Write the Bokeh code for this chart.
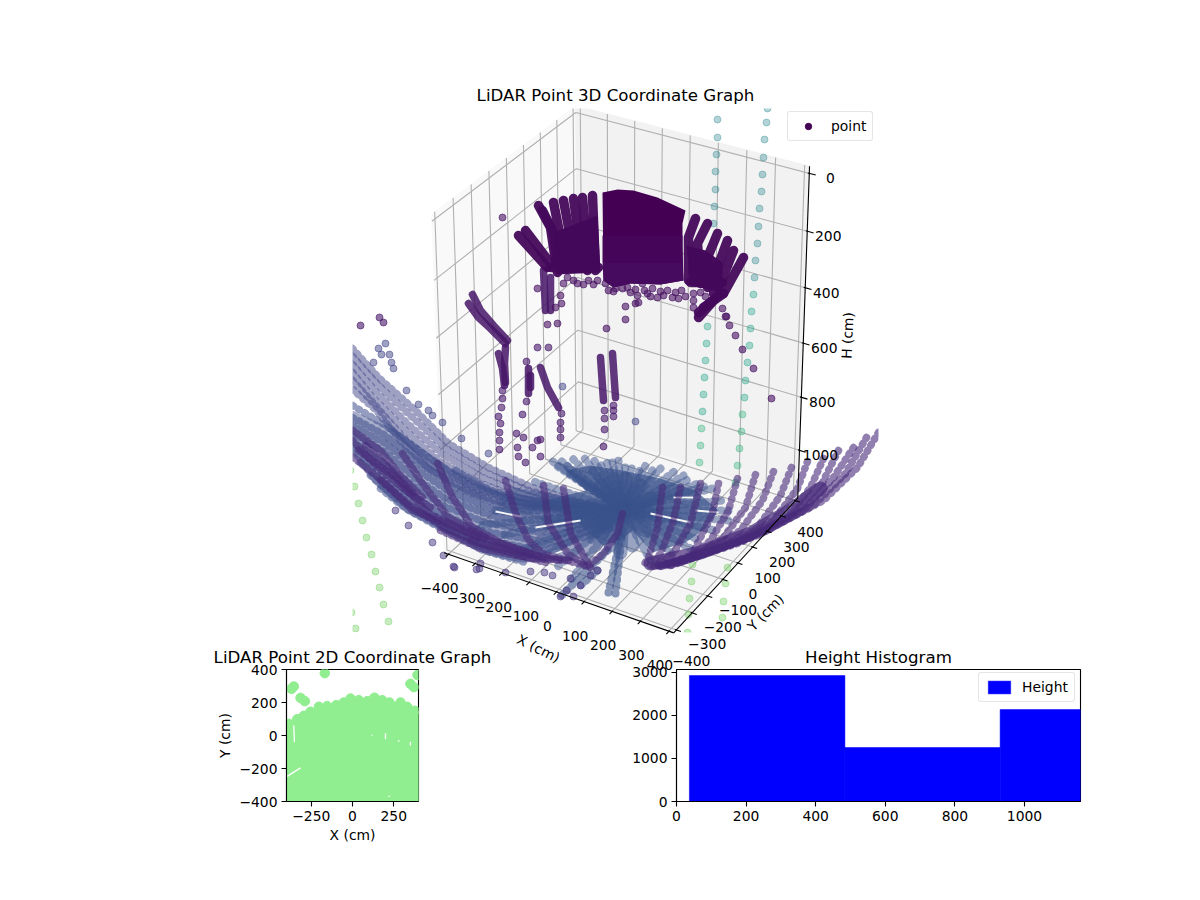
from bokeh.plotting import figure
from bokeh.layouts import column, row
from bokeh.models import Range1d, Label, Legend, LegendItem, FixedTicker, ColumnDataSource
from bokeh.transform import linear_cmap
from bokeh.palettes import Viridis256
from bokeh.embed import file_html
from bokeh.resources import INLINE

FONT = "DejaVu Sans"
TXT = "13.89px"
TTL = "16.67px"

# ---------------- 3D axis values ----------------
x_ticks = [-400, -300, -200, -100, 0, 100, 200, 300, 400]
y_ticks = [-400, -300, -200, -100, 0, 100, 200, 300, 400]
h_ticks = [0, 200, 400, 600, 800, 1000]
pane_xy = 416.67
pane_h_top = -24
pane_h_bottom = 1184

# ---------------- scan (position in the picture plane, height estimate) ----------------
teal_upper = [(717,119),(717,137),(716,154),(715,171),(715,189),(714,206),(713,223),(767,108),(766,122),(764,139),(763,157),(762,174),(761,191),(759,208),(758,226),(757,243),(755,260),(754,277)]
teal_mid = [(753,294),(751,311),(750,328),(749,345),(747,362),(745,380),(744,397),(707,326),(706,343),(705,360),(704,377),(703,394),(702,411)]
teal_low = [(742,414),(741,431),(739,448),(737,465),(735,482),(701,428),(700,445),(699,462)]
green_low = [(692,564),(691,581),(689,598),(688,614),(687,632),(725,583),(727,567),(723,601),(722,617),(719,634),(354,486),(358,503),(362,520),(366,537),(371,554),(375,571),(379,587),(383,604),(388,621),(392,637),(351,612),(355,628),(350,470)]

dome_outliers = [(502,217),(537,288),(560,295),(561,303),(555,307),(547,324),(557,323),(606,328),(625,306),(625,319),(635,303),(638,302),(693,300),(693,307),(722,308),(726,316),(615,288),(630,292),(637,295),(647,293),(657,297),(672,297),(678,298),(693,293),(642,283),(667,290),(605,283),(563,283),(573,280),(577,283),(588,280),(597,280),(622,288),(652,288),(663,295),(685,296),(608,290),(725,316),(729,325),(735,335),(742,349),(753,368),(771,398),(613,291),(627,287),(635,289),(644,290),(650,296),(660,291),(675,292),(681,290),(700,292),(705,296),(567,277),(583,284),(593,284)]
wall_points = [(379,317),(383,322),(360,325),(537,347),(548,347),(516,433),(523,437),(517,447),(518,456),(525,462),(532,447),(540,456),(537,440),(540,439),(603,446),(604,410),(604,418),(604,429),(613,405),(613,410),(613,416),(502,390),(502,398),(501,407),(498,416),(500,423),(499,432),(499,440),(499,449),(526,401),(522,414),(526,361),(561,413),(560,422),(560,429),(560,437)]
blue_points = [(635,421),(562,386),(385,343),(378,348),(381,354),(389,354),(373,362),(391,362),(393,368),(406,390),(418,404),(428,410),(432,415),(442,422),(461,438),(488,453)]
low_points = [(454,567),(476,569),(443,555),(480,563),(505,572),(530,571),(560,596),(566,590),(573,596),(580,585),(570,578),(590,575),(597,570),(552,575),(544,572),(453,566),(479,568),(432,542),(408,525),(395,510)]

dome_block = [(602,192),(617,189),(633,190),(657,197),(685,210),(682,223),(682,247),(683,280),(660,284),(630,283),(613,287),(603,280)]
dome_block_mid = [(602,235),(682,235),(682,262),(602,262)]
dome_block_low = [(602,262),(682,262),(683,280),(660,284),(630,283),(613,287),(603,280)]
dome_fill_left = [(553,232),(597,215),(600,272),(556,274)]
dome_fill_right = [(686,245),(705,250),(722,262),(722,292),(690,285)]
dome_strokes = [
 [(538,205),(550,227),(553,247),(557,272)],
 [(542,210),(553,232),(557,262)],
 [(553,202),(558,227),(563,267)],
 [(563,200),(568,227),(573,267)],
 [(573,198),(577,227),(580,267)],
 [(582,197),(585,230),(587,270)],
 [(592,195),(595,270)],
 [(550,267),(598,267)],
 [(518,235),(547,267)],
 [(525,230),(550,263)],
 [(695,218),(688,237),(688,280)],
 [(707,223),(697,243),(700,283)],
 [(717,233),(707,257),(707,287)],
 [(727,240),(717,267),(713,293)],
 [(733,250),(720,283)],
 [(743,257),(723,293)],
 [(698,317),(713,300)],
 [(703,307),(723,293)],
 [(698,312),(718,295)],
 [(690,282),(722,282)],
 [(692,270),(715,272)],
]
wall_strokes = [
 [(543,270),(545,310)],
 [(550,277),(550,310)],
 [(472,294),(480,310),(493,325),(507,340)],
 [(468,303),(478,317),(490,328),(505,343)],
 [(505,347),(504,363),(505,382)],
 [(498,353),(502,368),(504,385)],
 [(528,368),(528,393)],
 [(530,375),(530,387)],
 [(540,367),(547,387),(558,407)],
 [(600,357),(603,400)],
 [(612,353),(615,397)],
]
floor_bands = [
 [(352,348),(378,377),(415,410),(448,443),(488,467),(532,487),(600,508)],
 [(352,356),(378,385),(412,417),(445,448),(485,472),(528,490),(600,509)],
 [(352,364),(376,392),(408,424),(442,454),(482,477),(524,494),(600,510)],
 [(352,372),(372,397),(405,430),(438,460),(478,482),(518,497),(600,511)],
 [(352,380),(374,404),(402,436),(432,465),(474,488),(514,501),(600,512)],
 [(352,389),(376,410),(400,440),(428,468),(470,492),(510,505),(600,512)],
]
floor_dense = [
 [(352,417),(385,435),(420,463),(455,487),(500,505),(560,512),(610,512)],
 [(352,425),(385,443),(418,470),(450,492),(495,510),(550,518),(610,514)],
 [(352,433),(385,452),(415,478),(445,498),(490,515),(545,525),(610,516)],
 [(352,441),(380,460),(412,485),(442,505),(485,522),(540,532),(610,518)],
 [(352,449),(378,468),(408,492),(438,512),(480,530),(535,540),(610,520)],
 [(360,462),(385,482),(412,502),(440,520),(478,538),(530,548),(610,524)],
 [(370,475),(395,497),(420,513),(450,530),(480,545),(525,556),(610,528)],
 [(380,488),(405,508),(430,522),(460,538),(490,552),(525,562)],
 [(352,405),(385,425),(425,455),(470,485),(530,505),(610,510)],
 [(455,470),(490,490),(540,503),(610,510)],
]
floor_mass = [(352,410),(400,432),(450,468),(500,492),(560,500),(622,508),(600,550),(575,560),(520,562),(480,553),(440,530),(405,512),(373,483),(352,455)]
dark_left = [
 [(543,485),(548,523),(567,553),(587,566),(603,553),(617,533),(622,513)],
 [(563,488),(570,533),(590,567)],
 [(505,480),(515,513),(528,540),(542,553),(588,566)],
 [(437,463),(452,497),(472,527),(502,543),(542,557)],
 [(402,453),(422,483),(448,517),(485,537)],
 [(358,450),(395,477),(428,513),(472,533),(512,547),(532,553)],
 [(353,457),(385,483),(412,510),(445,523),(478,537)],
 [(352,430),(380,450),(400,475),(425,500)],
 [(440,530),(480,548),(530,558),(570,560)],
 [(380,480),(410,505),(445,528),(480,542),(520,552),(560,560)],
 [(352,440),(375,465),(405,490),(432,508)],
 [(365,445),(390,470),(415,495)],
 [(470,540),(510,552),(545,562)],
]
dark_right = [
 [(662,487),(657,527),(648,557),(643,565)],
 [(680,487),(673,520),(660,553),(650,565)],
 [(700,483),(690,523),(673,553),(653,566)],
 [(718,483),(712,513),(697,543),(690,557),(655,566)],
 [(737,478),(728,510),(710,540),(690,557),(655,566)],
 [(755,474),(745,507),(723,537),(700,552),(660,566)],
 [(773,471),(762,500),(740,530),(710,548),(660,566)],
 [(791,467),(780,495),(757,527),(720,547),(665,565)],
 [(807,461),(797,488),(773,520),(733,543),(665,565)],
 [(823,458),(810,487),(787,517),(740,542),(670,565)],
 [(838,450),(822,482),(793,513),(747,538),(670,565)],
 [(853,447),(833,477),(803,510),(757,535),(675,563)],
 [(866,437),(845,473),(813,505),(763,532),(680,562)],
 [(878,432),(857,467),(823,500),(770,528),(690,558)],
]
right_base = [[(650,563),(700,552),(750,533),(790,510),(820,488)]]
hub_x = 622
hub_y = 510
hub_fan = [(565,470),(590,465),(622,470),(660,478),(695,490),(718,510),(705,528),(685,542),(652,552),(632,530),(620,540),(602,545),(575,520),(545,500),(585,490)]
hub_ends = [(548,458),(560,460),(572,458),(582,455),(592,457),(605,458),(618,460),(632,464),(645,465),(660,468),(675,470),(690,478),(700,482),(712,488),(722,500),(728,510),(728,520),(715,530),(700,540),(690,548),(530,480),(510,490),(500,500),(490,510),(480,525),(500,535),(520,550),(540,558),(555,568),(570,580),(650,560),(670,552),(640,468),(565,470),(590,468),(660,500),(680,520),(560,500),(540,520),(590,540),(554,464),(566,465),(599,462),(612,462),(625,462),(652,470),(683,475),(707,485)]
hub_inner = [(600,485),(612,478),(625,478),(640,485),(650,498),(655,515),(645,530),(632,545),(620,552),(610,545),(597,525),(590,505)]
hub_low = [[(620,537),(608,592)],[(622,530),(615,593)],[(607,550),(560,596)],[(597,570),(580,585)]]
floor_slits = [[(650,513),(690,522)],[(535,527),(580,520)],[(550,555),(563,550)],[(673,497),(693,497)],[(695,510),(718,512)],[(495,511),(520,516)]]

# ---------------- lower panels ----------------
edge_x = [-386,-335,-295,-255,-204,-154,-99,-53,-12,38,89,133,180,224,291,331,378]
edge_y = [71,99,119,144,174,178,184,200,224,214,208,229,214,200,200,174,150]
far_x = [-168,-370,-356,-315,-289,351,372,394]
far_y = [378,283,297,228,208,313,293,366]
wall_x = [9999]   # nothing of this series lies inside the axes; kept so that its legend key is drawn
wall_y = [9999]
gap_x = [[-396,-315],[-356,-352],[200,200],[351,351],[218,226],[116,122],[275,285]]
gap_y = [[-248,-196],[61,-40],[14,-22],[-40,-60],[-369,-369],[1,1],[-32,-32]]
xticks_2d = [-250, 0, 250]
yticks_2d = [-400, -200, 0, 200, 400]

bin_edges = [37, 484, 930, 1377]
bin_counts = [2923, 1253, 2134]
hist_xticks = [0, 200, 400, 600, 800, 1000]
hist_yticks = [0, 1000, 2000, 3000]

# ---------------- projection of the 3D box ----------------
BA = (0.966, 0.966, 1.328)
R = (BA[0]/2, BA[1]/2, BA[2]/2)
OFF = (4.33, -7.5, 5.0)
U = (0.866, 0.5, 0.0)
V = (-0.25, 0.433, 0.866)
W = (0.433, -0.75, 0.5)
CX, CY = 623, 362.5


def proj(x, y, h):
    w = ((x + pane_xy) / (2*pane_xy) * BA[0],
         (y + pane_xy) / (2*pane_xy) * BA[1],
         (pane_h_bottom - h) / (pane_h_bottom - pane_h_top) * BA[2])
    d = [w[i] - R[i] - OFF[i] for i in range(3)]
    xv = sum(U[i]*d[i] for i in range(3))
    yv = sum(V[i]*d[i] for i in range(3))
    zv = sum(W[i]*d[i] for i in range(3))
    return CX + xv/(-zv)/0.095*263, CY - yv/(-zv)/0.09*262


def path(*pts):
    p = [proj(*q) for q in pts]
    return [a for a, _ in p], [b for _, b in p]


P = pane_xy
T, B = pane_h_top, pane_h_bottom
mapper = dict(palette=Viridis256, low=0, high=4000)

p3 = figure(width=1200, height=672, x_range=Range1d(200, 1000), y_range=Range1d(672, 40),
            min_border_left=200, min_border_right=200, min_border_top=40, min_border_bottom=0,
            x_axis_location=None, y_axis_location=None, toolbar_location=None, output_backend="svg",
            border_fill_color=None, background_fill_color=None, outline_line_color=None)
p3.grid.visible = False

for pts, col in [(((-P,-P,B),(-P,P,B),(-P,P,T),(-P,-P,T)), "#f9f9f9"),
                 (((-P,P,B),(P,P,B),(P,P,T),(-P,P,T)), "#f2f2f2"),
                 (((-P,-P,B),(P,-P,B),(P,P,B),(-P,P,B)), "#f6f6f6")]:
    xs, ys = path(*pts)
    p3.patch(xs, ys, fill_color=col, line_color=col, line_width=1)

gx, gy = [], []
for t in x_ticks:
    a, b = path((t,-P,B),(t,P,B),(t,P,T)); gx.append(a); gy.append(b)
for t in y_ticks:
    a, b = path((P,t,B),(-P,t,B),(-P,t,T)); gx.append(a); gy.append(b)
for t in h_ticks:
    a, b = path((-P,-P,t),(-P,P,t),(P,P,t)); gx.append(a); gy.append(b)
p3.multi_line(gx, gy, line_color="#b0b0b0", line_width=1.1)

ax, ay = [], []
for pts in [((-P,-P,B),(P,-P,B)), ((P,-P,B),(P,P,B)), ((P,P,B),(P,P,T))]:
    a, b = path(*pts); ax.append(a); ay.append(b)
for t in x_ticks:
    a, b = path((t,-P-16,B),(t,-P+5,B)); ax.append(a); ay.append(b)
for t in y_ticks:
    a, b = path((P-5,t,B),(P+16,t,B)); ax.append(a); ay.append(b)
for t in h_ticks:
    a, b = path((P-5,P,t),(P+22,P,t)); ax.append(a); ay.append(b)


def strokes(lists, h, width, alpha, dash=None):
    src = ColumnDataSource(dict(xs=[[q[0] for q in s] for s in lists],
                                ys=[[q[1] for q in s] for s in lists],
                                h=[h]*len(lists)))
    r = p3.multi_line("xs", "ys", source=src, line_width=width, line_alpha=alpha, line_cap="round", line_join="round",
                      line_color=linear_cmap("h", **mapper))
    if dash:
        r.glyph.line_dash = dash


def region(pts, h, alpha):
    src = ColumnDataSource(dict(xs=[[q[0] for q in pts]], ys=[[q[1] for q in pts]], h=[h]))
    p3.patches("xs", "ys", source=src, fill_color=linear_cmap("h", **mapper), fill_alpha=alpha, line_color=None)


def dots(pts, h, alpha=0.5):
    src = ColumnDataSource(dict(x=[q[0] for q in pts], y=[q[1] for q in pts], h=[h]*len(pts)))
    c = linear_cmap("h", **mapper)
    p3.scatter("x", "y", source=src, size=7, marker="circle", fill_color=c, line_color=c, fill_alpha=alpha, line_alpha=alpha)


dots(teal_upper, 1800, 0.35)
dots(teal_mid, 2300, 0.38)
dots(teal_low, 2600, 0.38)
dots(green_low, 3100, 0.38)
strokes(floor_bands, 800, 7.5, 0.5, "1 6")
region(floor_mass, 900, 0.45)
strokes(floor_dense, 950, 7.5, 0.55, "1 6")
region(hub_fan, 1000, 0.7)
hub = [[(hub_x, hub_y), e] for e in hub_ends]
strokes(hub, 1000, 8, 0.5, "1 6")
strokes([[(hub_x, hub_y), e] for e in hub_inner], 1000, 14, 0.5)
strokes(hub_low, 1000, 8, 0.6, "1 6")
p3.multi_line([[q[0] for q in s] for s in floor_slits], [[q[1] for q in s] for s in floor_slits], line_color="#f6f6f6", line_width=1.8)
dots(blue_points, 800)
dots(low_points, 600)
strokes(dark_left, 480, 7.5, 0.6, "1 5")
strokes(right_base, 500, 14, 0.7)
strokes(dark_right, 480, 7.5, 0.6, "1 6")
strokes(wall_strokes, 220, 7.5, 0.85)
dots(wall_points, 250, 0.6)
dots(dome_outliers, 180, 0.6)
region(dome_block, 0, 1)
region(dome_block_mid, 60, 1)
region(dome_block_low, 120, 1)
region(dome_fill_left, 100, 1)
region(dome_fill_right, 120, 1)
strokes(dome_strokes, 90, 9.5, 0.95)

# the marks stop at the edge of the 3D axes box
p3.quad(left=[200, 878, 352, 352], right=[352, 1000, 878, 878], top=[40, 40, 40, 632], bottom=[672, 672, 108, 672],
        fill_color="white", line_color=None)
p3.multi_line(ax, ay, line_color="black", line_width=1.1)


def lab(p, x, y, text, angle=0.0, size=TXT):
    p.add_layout(Label(x=x, y=y, text=text, angle=angle, text_font=FONT, text_font_size=size, text_color="black",
                       text_align="center", text_baseline="middle"))


def minus(v):
    return str(v).replace("-", "\u2212")


lab(p3, 615, 95, "LiDAR Point 3D Coordinate Graph", size=TTL)
for t in x_ticks:
    a, b = proj(t, -P, B)
    lab(p3, a-9, b+34, minus(t))
for t in y_ticks:
    a, b = proj(P, t, B)
    lab(p3, a+15, b+31, minus(t))
for t in h_ticks:
    a, b = proj(P, P, t)
    lab(p3, a+21, b+5, minus(t))
lab(p3, 538, 648, "X (cm)", angle=-0.46)
lab(p3, 765, 612, "Y (cm)", angle=0.8)
lab(p3, 847, 335, "H (cm)", angle=1.53)

r3 = p3.scatter(wall_x, wall_y, size=7, marker="circle", fill_color="#440154", line_color="#440154")


def style_legend(lg):
    lg.label_text_font = FONT
    lg.label_text_font_size = TXT
    lg.label_text_color = "black"
    lg.border_line_color = "#cccccc"
    lg.border_line_width = 1
    lg.background_fill_alpha = 0.8
    lg.margin = 0
    lg.padding = 6
    lg.spacing = 3
    lg.glyph_width = 28
    lg.glyph_height = 16
    lg.label_standoff = 9
    lg.label_height = 16
    if "border_radius" in Legend.properties():
        lg.border_radius = 3


lg3 = Legend(items=[LegendItem(label="point", renderers=[r3])], location=(587, 531))
style_legend(lg3)
p3.add_layout(lg3, "center")


# ---------------- lower figures ----------------
def style_axes(p):
    p.grid.visible = False
    p.title.align = "center"
    p.title.text_font = FONT
    p.title.text_font_size = TTL
    p.title.text_font_style = "normal"
    p.title.text_color = "black"
    p.title.standoff = 5
    p.outline_line_color = "black"
    p.outline_line_width = 1.1
    for a in p.axis:
        a.major_tick_in = 0
        a.major_tick_out = 5
        a.minor_tick_line_color = None
        a.axis_line_width = 1.1
        a.major_tick_line_width = 1.1
        a.major_label_text_font = FONT
        a.major_label_text_font_size = TXT
        a.major_label_text_color = "black"
        a.major_label_standoff = 4
        a.axis_label_text_font = FONT
        a.axis_label_text_font_size = TXT
        a.axis_label_text_font_style = "normal"
        a.axis_label_text_color = "black"
        a.axis_label_standoff = 3


p2 = figure(width=600, height=220, x_range=Range1d(-400, 400), y_range=Range1d(-400, 400),
            min_border_left=286, min_border_right=182, min_border_top=29, min_border_bottom=59,
            toolbar_location=None, output_backend="svg", title="LiDAR Point 2D Coordinate Graph", border_fill_color=None)
p2.patch([-400] + edge_x + [400, 400, -400], [edge_y[0]] + edge_y + [edge_y[-1], -400, -400], fill_color="#90ee90", line_color="#90ee90")
p2.scatter(edge_x + far_x, edge_y + far_y, size=9.5, marker="circle", fill_color="#90ee90", line_color="#90ee90")
p2.multi_line(gap_x, gap_y, line_color="white", line_width=1.3)
p2.xaxis.axis_label = "X (cm)"
p2.yaxis.axis_label = "Y (cm)"
p2.xaxis.ticker = FixedTicker(ticks=xticks_2d)
p2.yaxis.ticker = FixedTicker(ticks=yticks_2d)
p2.xaxis.major_label_overrides = {t: minus(t) for t in xticks_2d}
p2.yaxis.major_label_overrides = {t: minus(t) for t in yticks_2d}
style_axes(p2)

key = figure(width=175, height=220, x_range=Range1d(0, 1), y_range=Range1d(0, 1),
             min_border_left=0, min_border_right=0, min_border_top=0, min_border_bottom=0,
             x_axis_location=None, y_axis_location=None, toolbar_location=None, output_backend="svg",
             border_fill_color=None, background_fill_color=None, outline_line_color=None,
             margin=(0, 0, 0, -175))
key.grid.visible = False
rp = key.scatter(wall_x, wall_y, size=9, marker="circle", fill_color="#90ee90", line_color="#90ee90")
rw = key.scatter(wall_x, wall_y, size=9, marker="circle", fill_color="#0000ff", line_color="#0000ff")
lg2 = Legend(items=[LegendItem(label="point", renderers=[rp]), LegendItem(label="wall", renderers=[rw])], location=(6, 138))
style_legend(lg2)
key.add_layout(lg2, "center")

ph = figure(width=600, height=220, x_range=Range1d(0, 1161), y_range=Range1d(0, 3063),
            min_border_left=76, min_border_right=120, min_border_top=29, min_border_bottom=59,
            toolbar_location=None, output_backend="svg", title="Height Histogram", border_fill_color=None)
rh = ph.quad(left=bin_edges[:-1], right=bin_edges[1:], bottom=0, top=bin_counts, fill_color="#0000ff", line_color="#0000ff", line_width=0.5)
ph.xaxis.ticker = FixedTicker(ticks=hist_xticks)
ph.yaxis.ticker = FixedTicker(ticks=hist_yticks)
style_axes(ph)
lgh = Legend(items=[LegendItem(label="Height", renderers=[rh])], location=(302, 99))
style_legend(lgh)
ph.add_layout(lgh, "center")

lower = row(p2, key, ph, margin=(-32, 0, 0, 0))
page = column(p3, lower)
open("out.html", "w").write(file_html(page, INLINE))
